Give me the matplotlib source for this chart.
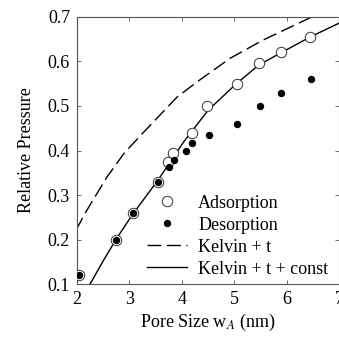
import numpy as np
from matplotlib import pyplot as plt

plt.rcParams['font.family'] = ['Liberation Serif', 'DejaVu Serif']
plt.rcParams['mathtext.fontset'] = 'stix'

# measured isotherm points (pore size in nm, relative pressure)
ads_w = [2.04, 2.75, 3.06, 3.55, 3.74, 3.84, 4.19, 4.49, 5.06, 5.47, 5.89, 6.45]
ads_p = [0.12, 0.20, 0.26, 0.33, 0.374, 0.394, 0.44, 0.50, 0.55, 0.596, 0.621, 0.655]

des_w = [2.04, 2.75, 3.06, 3.55, 3.75, 3.85, 4.09, 4.19, 4.51, 5.06, 5.49, 5.90, 6.47]
des_p = [0.12, 0.20, 0.26, 0.33, 0.363, 0.379, 0.40, 0.416, 0.435, 0.46, 0.50, 0.53, 0.56]

# model curves
kelvin_w = [1.98, 2.19, 2.57, 2.90, 3.28, 3.91, 4.29, 4.92, 5.55, 6.48, 6.70]
kelvin_p = [0.221, 0.266, 0.34, 0.394, 0.442, 0.52, 0.554, 0.607, 0.648, 0.70, 0.712]

const_w = [2.25, 2.50, 2.76, 3.07, 3.55, 4.04, 4.50, 5.04, 5.47, 5.90, 6.45, 7.00]
const_p = [0.10, 0.152, 0.203, 0.258, 0.334, 0.42, 0.49, 0.55, 0.592, 0.62, 0.655, 0.686]

fig = plt.figure(figsize=(3.39, 3.39), dpi=100)
ax = fig.add_axes([0.227, 0.162, 0.773, 0.788])

ax.plot(ads_w, ads_p, 'o', ms=7.5, mfc='white', mec='#333333', mew=0.7,
        label='Adsorption', zorder=3)
ax.plot(des_w, des_p, 'o', ms=4.3, color='black', label='Desorption', zorder=4)
ax.plot(kelvin_w, kelvin_p, color='black', lw=1.0, dashes=(10, 4),
        label='Kelvin + t')
ax.plot(const_w, const_p, color='black', lw=1.0, label='Kelvin + t + const')

ax.set_xlim(2, 7)
ax.set_ylim(0.1, 0.7)
ax.set_xticks([2, 3, 4, 5, 6, 7])
ax.set_yticks([0.1, 0.2, 0.3, 0.4, 0.5, 0.6, 0.7])
ax.tick_params(direction='in', top=True, right=True, length=3, width=0.6,
               labelsize=13, pad=5, color='#555555')
for s in ax.spines.values():
    s.set_linewidth(0.8)
    s.set_color('#555555')

ax.set_xlabel(r'Pore Size w$_A$ (nm)', fontsize=13, labelpad=3)
ax.set_ylabel('Relative Pressure', fontsize=13, labelpad=9)

ax.legend(loc='lower right', bbox_to_anchor=(1.0, -0.017), frameon=False,
          fontsize=13, handlelength=2.25, handletextpad=0.6,
          labelspacing=0.28, borderaxespad=0.2)

fig.savefig('out.png', dpi=100)
